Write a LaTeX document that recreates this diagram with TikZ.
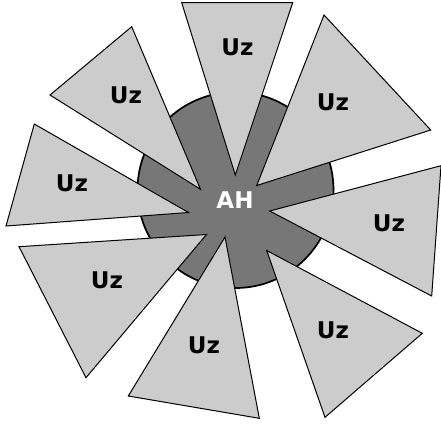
\documentclass[tikz,border=0pt]{standalone}
\usepackage{fontspec}
\newfontfamily\lblfont{DejaVu Sans}[BoldFont={DejaVu Sans Bold}]
\begin{document}
\begin{tikzpicture}[x=1pt,y=-1pt,
  hub/.style={fill=hubgray,draw=black,line width=1.7pt},
  blade/.style={fill=bladegray,draw=black,line width=1pt,line join=miter},
  uz/.style={font=\lblfont\bfseries\fontsize{23}{23}\selectfont,text=black,inner sep=0pt},
  ah/.style={font=\lblfont\bfseries\fontsize{23}{23}\selectfont,text=white,inner sep=0pt}]
\definecolor{hubgray}{HTML}{777777}
\definecolor{bladegray}{HTML}{CCCCCC}
\useasboundingbox (0,0) rectangle (441,426);
\fill[white] (0,0) rectangle (441,426);
\draw[hub] (235.5,190) circle (98);
% blades
\draw[blade] (181.7,2.7) -- (292.7,2.7) -- (235.3,175) -- cycle;
\draw[blade] (324,15) -- (430.7,130) -- (256.7,185.5) -- cycle;
\draw[blade] (441,165.7) -- (431.7,296) -- (269.7,211) -- cycle;
\draw[blade] (422.3,333.3) -- (325,417.3) -- (266.7,250.5) -- cycle;
\draw[blade] (259.3,418.3) -- (128.3,396) -- (225,237) -- cycle;
\draw[blade] (86,377.7) -- (19,246.7) -- (206.5,234.5) -- cycle;
\draw[blade] (6,226) -- (34.3,124) -- (188.5,212.5) -- cycle;
\draw[blade] (50,95) -- (131.7,26.7) -- (200.5,189.3) -- cycle;
% labels
\node[ah] (hub) at (235,200) {AH};
\node[uz] (u1) at (237.5,47) {Uz};
\node[uz] (u2) at (333,102) {Uz};
\node[uz] (u3) at (389,223) {Uz};
\node[uz] (u4) at (333,330) {Uz};
\node[uz] (u5) at (204,345) {Uz};
\node[uz] (u6) at (107,280) {Uz};
\node[uz] (u7) at (72,183) {Uz};
\node[uz] (u8) at (126,95) {Uz};
\end{tikzpicture}
\end{document}
